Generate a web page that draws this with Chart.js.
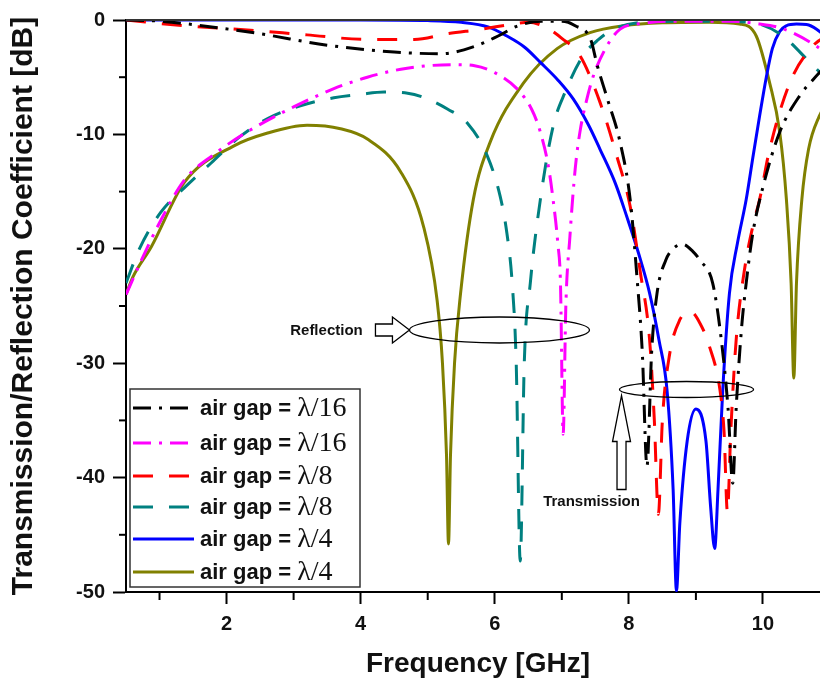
<!DOCTYPE html>
<html>
<head>
<meta charset="utf-8">
<script src="https://cdn.jsdelivr.net/npm/chart.js@4.4.1/dist/chart.umd.min.js"></script>
<style>
  html, body { margin: 0; padding: 0; background: #fff; overflow: hidden; }
  #wrap { width: 840px; height: 680px; }
</style>
</head>
<body>
<div id="wrap"><canvas id="chart" width="840" height="680"></canvas></div>
<script>
// tick values
const xTicks = [2, 4, 6, 8, 10];
const xMinor = [1, 3, 5, 7, 9, 11];
const yMinor = [-5, -15, -25, -35, -45];

// air gap = lambda/16, transmission (black dash-dot)
const freqT16 = [0.5, 1.0, 1.5, 2.5, 3.5, 4.5, 5.2, 5.7, 6.05, 6.35, 6.7, 7.0, 7.2, 7.43, 7.53, 7.68, 7.87, 8.02, 8.12, 8.2, 8.27, 8.34, 8.42, 8.55, 8.66, 8.8, 8.95, 9.06, 9.25, 9.38, 9.48, 9.55, 9.6, 9.68, 9.75, 9.85, 10.0, 10.25, 10.55, 10.75, 11.0];
const dbT16   = [0, -0.1, -0.4, -1.2, -2.2, -2.8, -2.95, -2.3, -1.4, -0.5, -0.1, -0.1, -0.5, -1.7, -4.0, -6.9, -10.7, -15.7, -22.4, -29, -39, -29, -23.9, -21, -20, -19.6, -20.2, -21, -23, -28, -34, -40.5, -34, -27, -23, -18.6, -14.6, -9.8, -6.6, -5.2, -3.6];

// air gap = lambda/16, reflection (magenta dash-dot)
const freqR16 = [0.5, 0.73, 1.02, 1.37, 1.8, 2.36, 3.0, 3.6, 4.1, 4.6, 5.0, 5.4, 5.7, 6.0, 6.33, 6.55, 6.68, 6.8, 6.87, 6.94, 6.98, 7.02, 7.06, 7.12, 7.2, 7.27, 7.37, 7.47, 7.67, 7.87, 8.2, 8.8, 9.5, 9.95, 10.2, 10.44, 10.8, 11.0];
const dbR16   = [-24, -21, -17.5, -14, -11.8, -9.6, -7.6, -6.0, -5.0, -4.3, -4.0, -3.9, -4.0, -4.6, -6.0, -7.8, -9.8, -12.8, -15.7, -19.5, -23, -36.2, -25, -19, -13, -9.8, -7.0, -4.9, -2.3, -0.8, -0.3, -0.1, -0.1, -0.35, -0.6, -1.1, -2.3, -3.2];

// air gap = lambda/8, transmission (red dash)
const freqT8 = [0.5, 1.37, 2.36, 3.2, 4.1, 4.8, 5.3, 5.8, 6.28, 6.5, 6.75, 7.0, 7.27, 7.57, 7.82, 8.02, 8.17, 8.31, 8.38, 8.44, 8.5, 8.6, 8.76, 8.92, 9.06, 9.2, 9.36, 9.42, 9.47, 9.52, 9.6, 9.72, 9.85, 9.95, 10.1, 10.4, 10.74, 11.0];
const dbT8   = [0, -0.5, -0.9, -1.3, -1.7, -1.7, -1.2, -0.8, -0.35, -0.2, -0.6, -1.6, -3.1, -7.2, -11.9, -16.3, -22, -28, -35, -43.2, -35, -29.5, -26.2, -25.5, -26.5, -28.5, -32.4, -36, -43, -36, -28, -22, -18, -15.7, -11.3, -5.5, -2.3, -1.2];

// air gap = lambda/8, reflection (teal dash)
const freqR8 = [0.5, 0.7, 1.02, 1.4, 1.77, 2.2, 2.62, 3.1, 3.6, 4.0, 4.35, 4.7, 5.0, 5.3, 5.59, 5.89, 6.08, 6.18, 6.26, 6.32, 6.38, 6.44, 6.53, 6.68, 6.87, 7.05, 7.32, 7.55, 7.77, 8.2, 9.0, 9.8, 10.25, 10.7, 11.0];
const dbR8   = [-23, -20, -16.8, -14.5, -12.5, -10.2, -8.6, -7.5, -6.8, -6.5, -6.3, -6.4, -6.9, -7.8, -9.0, -11.9, -15.4, -18.6, -23, -30, -47.3, -30, -23, -15.7, -9.3, -6.3, -3.1, -1.7, -0.8, -0.2, -0.1, -0.2, -1.2, -3.7, -5.5];

// air gap = lambda/4, transmission (blue solid)
const freqT4 = [0.5, 2, 4, 5.0, 5.5, 5.9, 6.18, 6.45, 6.68, 6.95, 7.17, 7.4, 7.57, 7.8, 7.97, 8.15, 8.31, 8.45, 8.57, 8.66, 8.71, 8.76, 8.87, 9.0, 9.15, 9.22, 9.28, 9.33, 9.4, 9.5, 9.62, 9.75, 9.85, 9.95, 10.05, 10.14, 10.25, 10.35, 10.5, 10.65, 10.8, 11.0];
const dbT4   = [0, 0, 0, -0.05, -0.2, -0.6, -1.4, -2.4, -3.7, -5.3, -6.9, -9.2, -11.3, -14.3, -17.2, -20.5, -23.9, -28, -32.4, -41, -49.9, -44, -36.8, -34, -36.8, -42.6, -46.2, -41, -32.4, -23.9, -19.5, -15.7, -12, -8.4, -5, -2.5, -1.0, -0.5, -0.35, -0.4, -0.8, -1.8];

// air gap = lambda/4, reflection (olive solid)
const freqR4 = [0.5, 0.6, 0.88, 1.37, 2.11, 2.6, 3.2, 3.7, 4.1, 4.6, 4.94, 5.14, 5.22, 5.28, 5.31, 5.34, 5.4, 5.49, 5.68, 5.93, 6.43, 6.93, 7.42, 7.92, 8.5, 9.2, 9.65, 9.9, 10.1, 10.25, 10.35, 10.42, 10.46, 10.5, 10.58, 10.68, 10.84, 11.0];
const dbR4   = [-24, -22.5, -19.8, -14.2, -11, -9.9, -9.2, -9.5, -10.4, -13.3, -18.1, -24.5, -30, -38, -45.8, -38, -30, -23.9, -15.7, -10.7, -5.5, -2.5, -1.1, -0.5, -0.25, -0.2, -0.35, -1.4, -5.5, -9.8, -15.7, -23, -31.3, -23, -15.7, -11.3, -8.4, -6.8];

const gapLabels = ['\u03bb/16', '\u03bb/16', '\u03bb/8', '\u03bb/8', '\u03bb/4', '\u03bb/4'];

function pts(fs, ds) {
  return fs.map((f, i) => ({ x: f, y: ds[i] }));
}

function line(label, fs, ds, color, dash) {
  return {
    label: label,
    data: pts(fs, ds),
    borderColor: color,
    backgroundColor: color,
    borderWidth: 3,
    borderDash: dash,
    pointRadius: 0,
    fill: false,
    cubicInterpolationMode: 'monotone'
  };
}

// draws the framing line, minor ticks, inset legend and the two callouts
const overlay = {
  id: 'overlay',
  afterDraw(chart) {
    const ctx = chart.ctx;
    const a = chart.chartArea;
    const xs = chart.scales.x, ys = chart.scales.y;
    ctx.save();

    // top frame
    ctx.strokeStyle = '#333';
    ctx.lineWidth = 2;
    ctx.beginPath(); ctx.moveTo(a.left, a.top); ctx.lineTo(a.right, a.top); ctx.stroke();

    // minor ticks
    ctx.strokeStyle = '#000';
    xMinor.forEach(v => {
      const px = xs.getPixelForValue(v);
      ctx.beginPath(); ctx.moveTo(px, a.bottom); ctx.lineTo(px, a.bottom + 8); ctx.stroke();
    });
    yMinor.forEach(v => {
      const py = ys.getPixelForValue(v);
      ctx.beginPath(); ctx.moveTo(a.left, py); ctx.lineTo(a.left - 7, py); ctx.stroke();
    });

    // legend box
    const lx = 130, ly = 389, lw = 230, lh = 198;
    ctx.fillStyle = '#fff';
    ctx.fillRect(lx, ly, lw, lh);
    ctx.strokeStyle = '#333';
    ctx.lineWidth = 1.5;
    ctx.strokeRect(lx, ly, lw, lh);
    const rows = [408, 443, 476, 507, 539, 572];
    chart.data.datasets.forEach((ds, i) => {
      const ry = rows[i];
      ctx.strokeStyle = ds.borderColor;
      ctx.lineWidth = 3;
      ctx.setLineDash(ds.borderDash || []);
      ctx.beginPath(); ctx.moveTo(133, ry); ctx.lineTo(194, ry); ctx.stroke();
      ctx.setLineDash([]);
      ctx.fillStyle = '#111';
      ctx.textBaseline = 'middle';
      ctx.textAlign = 'left';
      ctx.font = 'bold 22px "Liberation Sans", Arial, sans-serif';
      const pre = 'air gap = ';
      ctx.fillText(pre, 200, ry + 1);
      const w = ctx.measureText(pre).width;
      ctx.font = '28px "Liberation Serif", "Times New Roman", serif';
      ctx.fillText(gapLabels[i], 200 + w, ry + 1);
    });

    // Reflection callout
    ctx.strokeStyle = '#000';
    ctx.lineWidth = 1.3;
    const rcx = xs.getPixelForValue(6.07), rcy = ys.getPixelForValue(-27.1);
    ctx.beginPath(); ctx.ellipse(rcx, rcy, 90, 13, 0, 0, Math.PI * 2); ctx.stroke();
    const tipX = rcx - 90, tipY = rcy;
    ctx.fillStyle = '#fff';
    ctx.beginPath();
    ctx.moveTo(tipX, tipY);
    ctx.lineTo(tipX - 17, tipY - 13);
    ctx.lineTo(tipX - 17, tipY - 6);
    ctx.lineTo(tipX - 34, tipY - 6);
    ctx.lineTo(tipX - 34, tipY + 6);
    ctx.lineTo(tipX - 17, tipY + 6);
    ctx.lineTo(tipX - 17, tipY + 13);
    ctx.closePath();
    ctx.fill(); ctx.stroke();
    ctx.fillStyle = '#111';
    ctx.font = 'bold 15px "Liberation Sans", Arial, sans-serif';
    ctx.textAlign = 'center';
    ctx.fillText('Reflection', tipX - 83, tipY + 1);

    // Transmission callout
    const tcx = xs.getPixelForValue(8.86), tcy = ys.getPixelForValue(-32.3);
    ctx.beginPath(); ctx.ellipse(tcx, tcy, 67, 8, 0, 0, Math.PI * 2); ctx.stroke();
    const ax = tcx - 65, ay = tcy + 6;
    ctx.fillStyle = '#fff';
    ctx.beginPath();
    ctx.moveTo(ax, ay);
    ctx.lineTo(ax + 9, ay + 46);
    ctx.lineTo(ax + 4.5, ay + 46);
    ctx.lineTo(ax + 4.5, ay + 94);
    ctx.lineTo(ax - 4.5, ay + 94);
    ctx.lineTo(ax - 4.5, ay + 46);
    ctx.lineTo(ax - 9, ay + 46);
    ctx.closePath();
    ctx.fill(); ctx.stroke();
    ctx.fillStyle = '#111';
    ctx.fillText('Transmission', ax - 30, ay + 106);

    ctx.restore();
  }
};

const datasets = [
  line('air gap = \u03bb/16', freqT16, dbT16, '#000000', [18, 8, 3, 8]),
  line('air gap = \u03bb/16', freqR16, dbR16, '#ff00ff', [18, 8, 3, 8]),
  line('air gap = \u03bb/8', freqT8, dbT8, '#ff0000', [20, 16]),
  line('air gap = \u03bb/8', freqR8, dbR8, '#008080', [20, 16]),
  line('air gap = \u03bb/4', freqT4, dbT4, '#0000ff', []),
  line('air gap = \u03bb/4', freqR4, dbR4, '#808000', [])
];

const tickFont = { family: '"Liberation Sans", Arial, sans-serif', size: 20, weight: 'bold' };
const xTitleFont = { family: '"Liberation Sans", Arial, sans-serif', size: 28, weight: 'bold', lineHeight: 1.1 };
const yTitleFont = { family: '"Liberation Sans", Arial, sans-serif', size: 30, weight: 'bold', lineHeight: 1.1 };

new Chart(document.getElementById('chart'), {
  type: 'line',
  data: { datasets: datasets },
  options: {
    responsive: false,
    animation: false,
    layout: { padding: { top: 20, right: 10, left: 0, bottom: 0 } },
    plugins: { legend: { display: false }, tooltip: { enabled: false } },
    scales: {
      x: {
        type: 'linear',
        min: 0.5,
        max: 11,
        afterBuildTicks: s => { s.ticks = xTicks.map(v => ({ value: v })); },
        afterFit: s => { s.height = 88; },
        grid: { drawOnChartArea: false, tickLength: 12, tickColor: '#000', tickWidth: 2 },
        border: { color: '#000', width: 2 },
        ticks: { color: '#111', font: tickFont, padding: 8, maxRotation: 0 },
        title: { display: true, text: 'Frequency [GHz]', color: '#111', font: xTitleFont, padding: { top: 0, bottom: 0 } }
      },
      y: {
        min: -50,
        max: 0,
        ticks: { stepSize: 10, color: '#111', font: tickFont, padding: 8 },
        afterFit: s => { s.width = 126; },
        grid: { drawOnChartArea: false, tickLength: 13, tickColor: '#000', tickWidth: 2 },
        border: { color: '#000', width: 2 },
        title: { display: true, text: 'Transmission/Reflection Coefficient [dB]', color: '#111', font: yTitleFont, padding: { top: 7, bottom: 0 } }
      }
    }
  },
  plugins: [overlay]
});
</script>
</body>
</html>
